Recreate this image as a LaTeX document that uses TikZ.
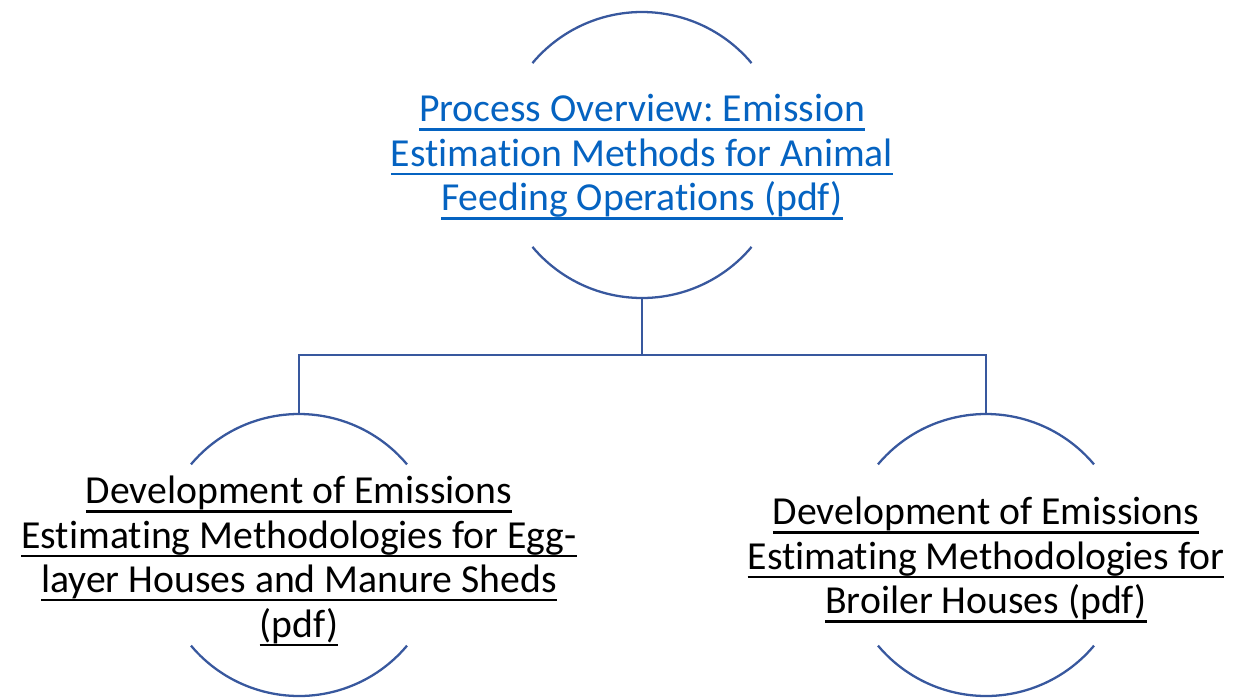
\documentclass[tikz,border=0pt]{standalone}
\usepackage{fontspec}
\setmainfont{Carlito}[Ligatures={NoCommon}]
\frenchspacing
\definecolor{ringblue}{RGB}{56,88,158}
\definecolor{linkblue}{RGB}{5,99,193}
\newcommand{\pxscl}{0.02}
\newcommand{\coordpx}[1]{#1*\pxscl}
\newcommand{\topr}{\coordpx{143}}
\newcommand{\subr}{\coordpx{141}}
\newcommand{\ulin}[1]{\setbox0\hbox{#1}\rlap{\rule[-5pt]{\wd0}{1.3pt}}\box0}
\newcommand{\hub}{\node[circle, inner sep=0pt, outer sep=0pt]}
\newcommand{\tn}{\node[align=center, font=\fontsize{22.6}{25.3}\selectfont]}

\begin{document}
\begin{tikzpicture}[ring/.style={draw=ringblue, line width=1.3pt}]
            \useasboundingbox (0,0) rectangle (\coordpx{1241}, -\coordpx{699});

            \hub[minimum size=2*\topr cm] (proc) at (\coordpx{642}, -\coordpx{155}) {};
            \hub[minimum size=2*\subr cm] (egg) at (\coordpx{299}, -\coordpx{555}) {};
            \hub[minimum size=2*\subr cm] (broiler) at (\coordpx{986}, -\coordpx{555}) {};
            \coordinate (split) at (\coordpx{642}, -\coordpx{355});

            \draw[ring]
                (proc.40) arc[start angle=40, end angle=140, radius=\topr]
                (proc.220) arc[start angle=220, end angle=320, radius=\topr]
                (egg.40) arc[start angle=40, end angle=140, radius=\subr]
                (egg.220) arc[start angle=220, end angle=320, radius=\subr]
                (broiler.40) arc[start angle=40, end angle=140, radius=\subr]
                (broiler.220) arc[start angle=220, end angle=320, radius=\subr]
                ;

            \draw[ring]
                (proc.south) -- (split)
                (split) -| (egg.north)
                (split) -| (broiler.north)
                ;

            \tn[text=linkblue] (proctext) at (\coordpx{642}, -\coordpx{157}) {\ulin{Process Overview: Emission}\\
                \ulin{Estimation Methods for Animal}\\ \ulin{Feeding Operations (pdf)}};
            \tn (eggtext) at (\coordpx{299}, -\coordpx{561}) {\ulin{Development of Emissions}\\
                \ulin{Estimating Methodologies for Egg-}\\ \ulin{layer Houses and Manure Sheds}\\ \ulin{(pdf)}};
            \tn (broilertext) at (\coordpx{986}, -\coordpx{560}) {\ulin{Development of Emissions}\\
                \ulin{Estimating Methodologies for}\\ \ulin{Broiler Houses (pdf)}};
\end{tikzpicture}
\end{document}
